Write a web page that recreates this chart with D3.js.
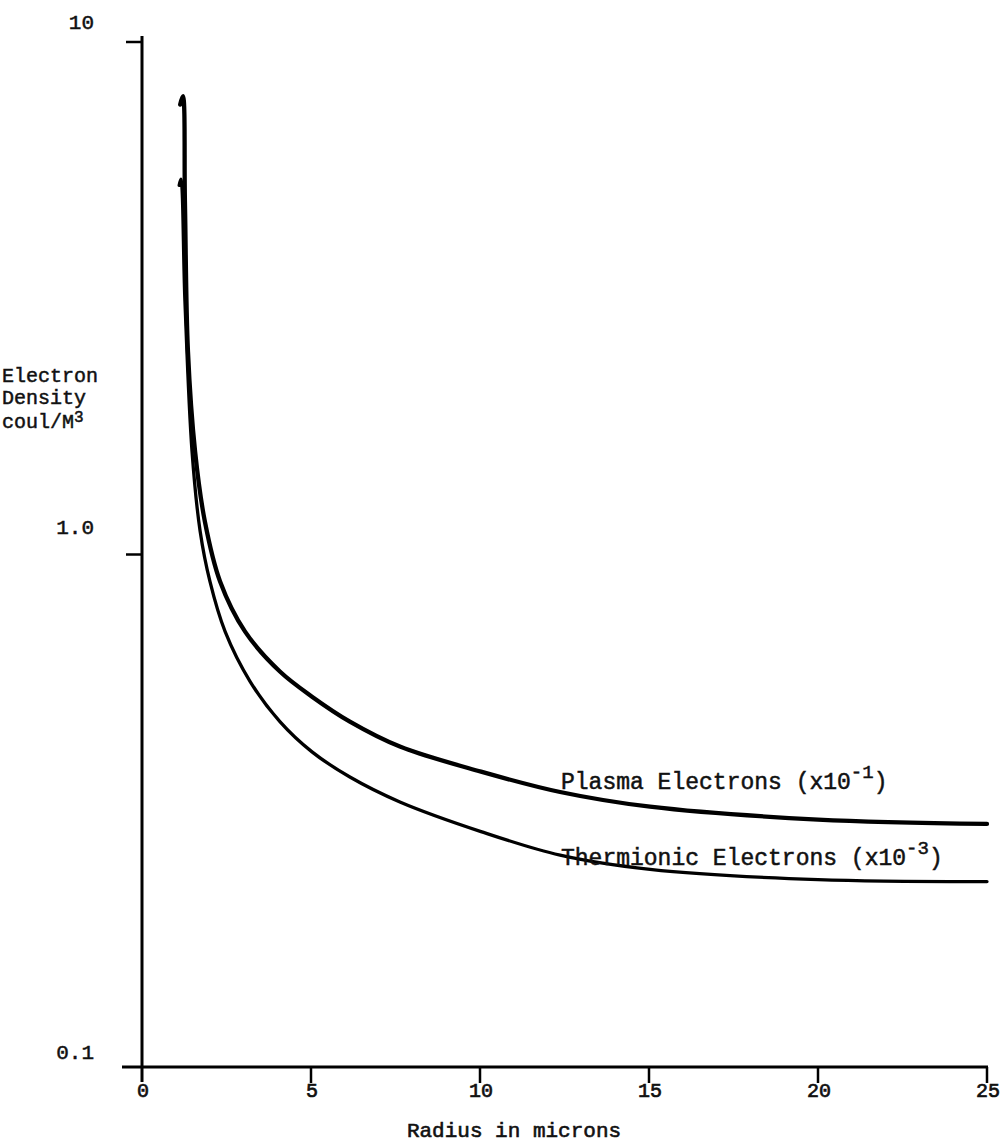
<!DOCTYPE html>
<html>
<head>
<meta charset="utf-8">
<script src="https://cdn.jsdelivr.net/npm/d3@7"></script>
<style>
  html, body { margin: 0; padding: 0; background: #fff; }
  text { font-family: "Liberation Mono", "Courier New", monospace; fill: #111; }
</style>
</head>
<body>
<svg id="chart" width="1002" height="1146"></svg>
<script>
// ---- data ----
const xTicks = [0, 5, 10, 15, 20, 25];
const xTickLabels = ["0", "5", "10", "15", "20", "25"];
const yTicks = [0.1, 1, 10];
const yTickLabels = ["0.1", "1.0", "10"];

// Plasma Electrons (x10^-1): [radius (microns), density]
const plasmaX = [1.13, 1.21, 1.27, 1.36, 1.57, 1.86, 2.31, 3.05, 4.08, 5.03, 6.15, 7.63, 10.03, 12.37, 15.03, 20.0, 25.0];
const plasmaY = [7.55, 7.84, 4.89, 2.49, 1.59, 1.16, 0.886, 0.707, 0.591, 0.528, 0.472, 0.422, 0.377, 0.344, 0.322, 0.304, 0.298];

// Thermionic Electrons (x10^-3)
const thermX = [1.10, 1.15, 1.27, 1.48, 1.72, 2.01, 2.46, 3.20, 4.08, 5.03, 6.15, 7.63, 10.03, 12.37, 15.03, 20.0, 25.0];
const thermY = [5.25, 5.40, 3.12, 1.59, 1.11, 0.886, 0.707, 0.565, 0.472, 0.412, 0.368, 0.329, 0.288, 0.259, 0.243, 0.232, 0.230];

const seriesNames = ["Plasma Electrons (x10", "Thermionic Electrons (x10"];
const seriesExp = ["-1", "-3"];

// ---- layout ----
const svg = d3.select("#chart");
const x = d3.scaleLinear().domain([0, 25]).range([142, 987]);
const y = d3.scaleLog().domain([0.1, 10]).range([1067, 42]);

const axisW = 3;
const ink = "#111";

// y axis line (extends slightly below the x axis)
svg.append("line")
  .attr("x1", x(0)).attr("x2", x(0))
  .attr("y1", y(10) - 6).attr("y2", y(0.1) + 15)
  .attr("stroke", "#000").attr("stroke-width", axisW);

// x axis line (extends slightly left of the y axis)
svg.append("line")
  .attr("x1", x(0) - 20).attr("x2", x(25) + 1)
  .attr("y1", y(0.1)).attr("y2", y(0.1))
  .attr("stroke", "#000").attr("stroke-width", axisW);

// y ticks (to the left)
svg.selectAll(".ytick").data(yTicks.filter(d => d !== 0.1)).enter().append("line")
  .attr("x1", x(0) - 16).attr("x2", x(0))
  .attr("y1", d => y(d)).attr("y2", d => y(d))
  .attr("stroke", "#000").attr("stroke-width", 2.5);

// x ticks (downward)
svg.selectAll(".xtick").data(xTicks.filter(d => d !== 0)).enter().append("line")
  .attr("x1", d => x(d)).attr("x2", d => x(d))
  .attr("y1", y(0.1)).attr("y2", y(0.1) + 16)
  .attr("stroke", "#000").attr("stroke-width", 2.5);

// y tick labels (typed slightly above their ticks in the original)
const yLabelShift = { 0.1: -8, 1: -21, 10: -13 };
svg.selectAll(".ylab").data(yTicks).enter().append("text")
  .attr("x", 94)
  .attr("y", d => y(d) + yLabelShift[d])
  .attr("text-anchor", "end")
  .attr("font-size", 21)
  .attr("stroke", ink).attr("stroke-width", 0.5)
  .text((d, i) => yTickLabels[i]);

// x tick labels
svg.selectAll(".xlab").data(xTicks).enter().append("text")
  .attr("x", d => x(d) + 1)
  .attr("y", y(0.1) + 30)
  .attr("text-anchor", "middle")
  .attr("font-size", 20)
  .attr("stroke", ink).attr("stroke-width", 0.7)
  .text((d, i) => xTickLabels[i]);

// x axis title
svg.append("text")
  .attr("x", 514).attr("y", 1137)
  .attr("text-anchor", "middle")
  .attr("font-size", 21)
  .attr("stroke", ink).attr("stroke-width", 0.6)
  .text("Radius in microns");

// y axis title (three lines)
const yt = svg.append("g").attr("font-size", 20);
yt.append("text").attr("x", 2).attr("y", 382).attr("stroke", ink).attr("stroke-width", 0.5).text("Electron");
yt.append("text").attr("x", 2).attr("y", 404).attr("stroke", ink).attr("stroke-width", 0.5).text("Density");
const cl = yt.append("text").attr("x", 2).attr("y", 428).attr("stroke", ink).attr("stroke-width", 0.5);
cl.append("tspan").text("coul/M");
cl.append("tspan").attr("dy", -6).attr("font-size", 16).text("3");

// curves
const line = d3.line()
  .x(d => x(d[0]))
  .y(d => y(d[1]))
  .curve(d3.curveCatmullRom.alpha(0.5));

const plasma = plasmaX.map((v, i) => [v, plasmaY[i]]);
const therm = thermX.map((v, i) => [v, thermY[i]]);

svg.append("path").datum(therm)
  .attr("d", line)
  .attr("fill", "none").attr("stroke", "#000").attr("stroke-width", 3.3)
  .attr("stroke-linejoin", "round").attr("stroke-linecap", "round");

svg.append("path").datum(plasma)
  .attr("d", line)
  .attr("fill", "none").attr("stroke", "#000").attr("stroke-width", 4.3)
  .attr("stroke-linejoin", "round").attr("stroke-linecap", "round");

// series labels
const labelPos = [[561, 789], [561, 865]];
seriesNames.forEach((name, i) => {
  const t = svg.append("text")
    .attr("x", labelPos[i][0]).attr("y", labelPos[i][1])
    .attr("font-size", 23)
    .attr("stroke", ink).attr("stroke-width", 0.5);
  t.append("tspan").text(name);
  t.append("tspan").attr("dy", -11).attr("font-size", 19).text(seriesExp[i]);
  t.append("tspan").attr("dy", 11).text(")");
});
</script>
</body>
</html>
